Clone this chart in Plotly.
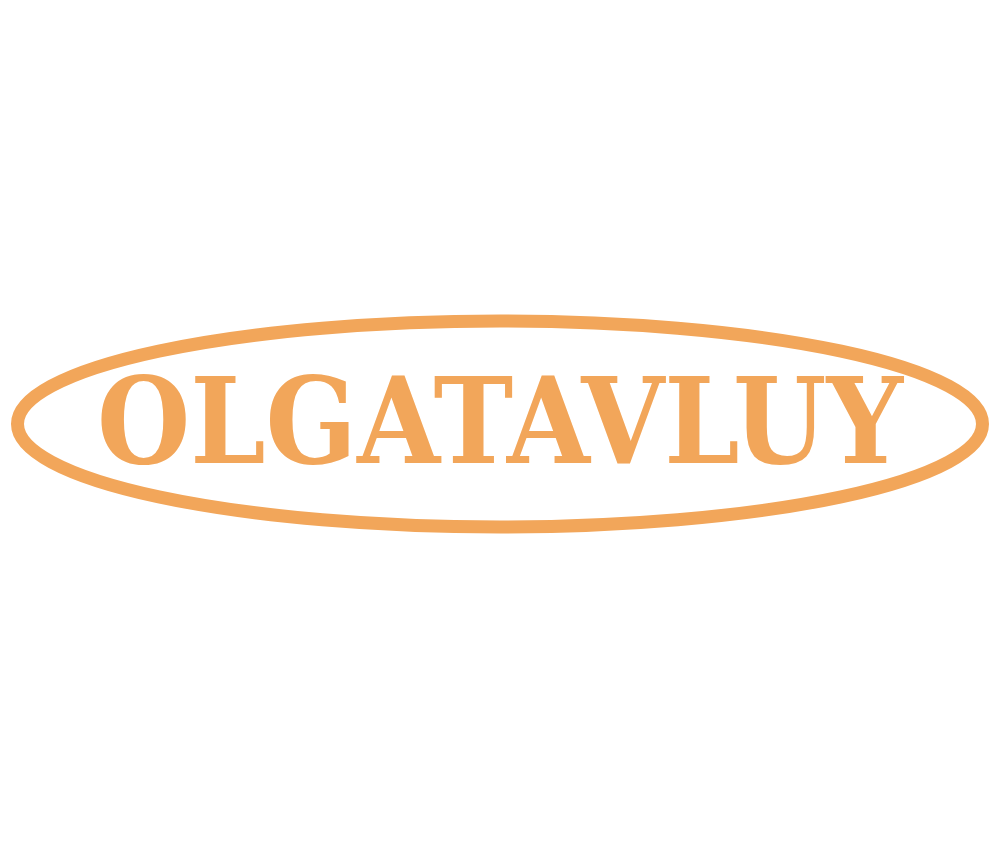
import plotly.graph_objects as go

# Logo content
logo_text = "OLGATAVLUY"
logo_color = "#F2A65A"

# Ellipse outline (plot coordinates, y measured from top)
ellipse_x = [9.5, 974.5]
ellipse_y = [313, 519]

# Centre of the lettering
text_pos = (492, 413)

fig = go.Figure()

fig.add_shape(
    type="circle",
    xref="x", yref="y",
    x0=ellipse_x[0], x1=ellipse_x[1],
    y0=ellipse_y[0], y1=ellipse_y[1],
    line=dict(color=logo_color, width=13),
)

fig.add_annotation(
    x=text_pos[0], y=text_pos[1],
    xref="x", yref="y",
    text=logo_text,
    showarrow=False,
    font=dict(family="DejaVu Serif Condensed", size=119, color=logo_color, weight="bold"),
)

fig.update_xaxes(range=[0, 1000], visible=False)
fig.update_yaxes(range=[850, 0], visible=False)
fig.update_layout(
    width=1000, height=850,
    margin=dict(l=0, r=0, t=0, b=0),
    plot_bgcolor="white", paper_bgcolor="white",
    showlegend=False,
)

fig.write_html("out.html")
